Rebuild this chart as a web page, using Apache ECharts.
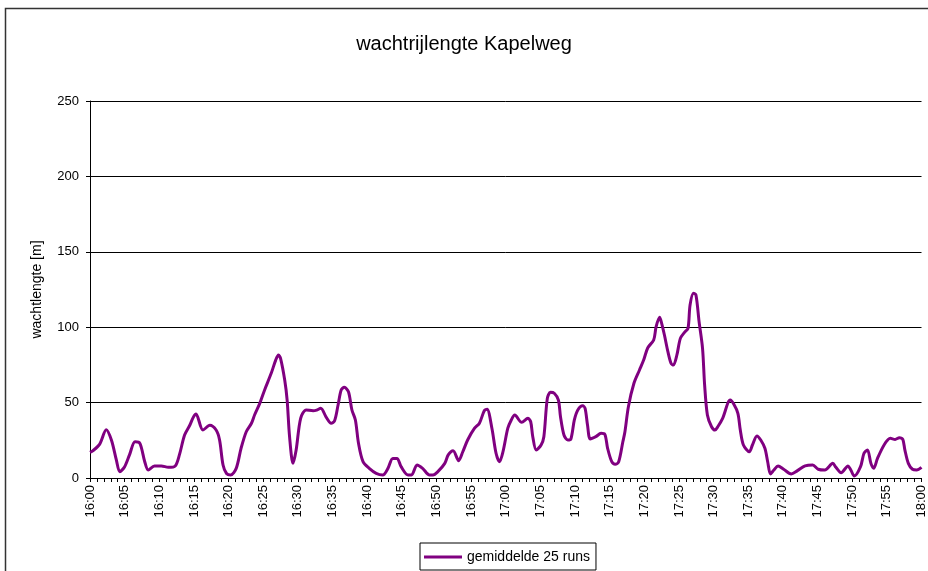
<!DOCTYPE html>
<html>
<head>
<meta charset="utf-8">
<script src="https://cdn.jsdelivr.net/npm/echarts@6/dist/echarts.min.js"></script>
<style>
	html, body { margin: 0; padding: 0; background: #fff; }
	#chart { width: 928px; height: 571px; }
</style>
</head>
<body>
<div id="chart"></div>
<script>
"use strict";

/*****Data*****/
// minutes after 16:00
var minutes = [
	0, 0.4, 1.4, 2.35, 3.1, 3.8, 4.3, 5.0, 5.7, 6.5, 7.2, 7.9, 8.4, 9.3, 10.3, 11.3, 12.3, 12.9, 13.65, 14.4,
	14.9, 15.3, 16.3, 17.3, 18.2, 18.7, 19.2, 19.7, 20.3, 21.1, 21.8, 22.55, 23.3, 23.75, 24.5, 25.2, 26.15, 26.8, 27.2, 27.5,
	28.1, 28.45, 28.8, 29.3, 29.75, 30.4, 31.2, 32.2, 32.7, 33.3, 34.1, 34.8, 35.3, 35.8, 36.25, 36.7, 37.3, 37.8, 38.3, 38.75,
	39.4, 40.3, 41.3, 42.25, 43.0, 43.7, 44.3, 44.9, 45.9, 46.4, 47.2, 48.0, 49.0, 49.5, 50.2, 51.2, 51.7, 52.4, 53.2, 53.8,
	54.5, 55.5, 56.2, 56.9, 57.3, 58.0, 58.6, 59.1, 59.6, 60.3, 60.8, 61.3, 62.3, 63.2, 63.6, 63.9, 64.4, 65.1, 65.5, 66.0,
	66.45, 67.0, 67.6, 67.9, 68.4, 68.95, 69.4, 69.9, 70.4, 71.1, 71.45, 71.8, 72.2, 73.0, 73.75, 74.3, 74.7, 75.3, 75.8, 76.3,
	76.9, 77.2, 77.7, 78.5, 79.3, 79.9, 80.5, 81.35, 81.7, 82.2, 82.5, 82.9, 83.4, 83.85, 84.2, 84.7, 85.2, 85.8, 86.3, 86.6,
	87.1, 87.45, 87.9, 88.4, 88.7, 89.1, 89.7, 90.2, 90.6, 91.3, 92.4, 92.9, 93.5, 93.85, 94.3, 95.15, 95.6, 96.25, 96.8, 97.4,
	97.8, 98.2, 98.7, 99.3, 100.1, 101.2, 102.1, 103.2, 104.3, 105.1, 106.05, 107.2, 107.65, 108.4, 109.4, 109.8, 110.3, 111.2, 111.7, 112.2,
	112.7, 113.1, 113.65, 114.6, 115.5, 116.2, 116.8, 117.3, 117.6, 118.1, 118.7, 119.3, 120
];
var queueLength = [
	17, 18, 22.5, 32, 25, 12, 4.2, 7.5, 15.3, 24, 23, 10.8, 5.3, 8, 8, 7.1, 8, 15.3, 28.5, 35,
	40.2, 42.4, 31.8, 35, 31.8, 25.2, 8.6, 3, 2, 6.4, 19.7, 30.7, 36.3, 41.8, 49.5, 58.4, 69.4, 78.2, 81.6, 79.4,
	65, 51.7, 27.4, 9.7, 18.6, 39.6, 45.1, 44.6, 45, 46.2, 40.2, 36.3, 38, 48.4, 58.4, 60.1, 57.2, 45.1, 38.5, 23,
	10.8, 6.4, 3.1, 2, 6.4, 13, 13, 7.5, 2, 2, 8.6, 6.4, 2, 2, 4.2, 9.7, 15.3, 18.1, 11.5, 17.4,
	25.2, 33, 36.3, 44.6, 45.6, 33, 16.4, 10.8, 17.4, 33, 38.5, 41.8, 36.9, 39.6, 37.3, 27.4, 18.6, 21.9, 27.4, 52.8,
	56.8, 56.2, 51.7, 40.6, 28.5, 25.2, 25.9, 38.5, 45.1, 47.9, 46.2, 35.1, 25.9, 27.4, 29.6, 29, 19.7, 10.8, 9.1, 10.8,
	24, 30.7, 47.3, 62.8, 71.6, 78.2, 86.4, 91.5, 100.3, 106.6, 102.6, 94.8, 83.8, 76.1, 74.9, 81.6, 92.6, 96.6, 99.2, 114.7,
	122.5, 121.4, 103.7, 86, 61.7, 41.8, 34, 31.8, 34, 39.6, 51.7, 49, 42.9, 31.8, 21.9, 17.4, 21.9, 27.9, 25.2, 19.7,
	10.8, 2.7, 5.3, 8, 5.8, 2.7, 4.9, 8, 8.6, 5.8, 5.3, 9.7, 7.1, 3.5, 8, 5.3, 1.3, 7.5, 16.4, 18.6,
	9.7, 6.4, 13, 21.9, 26.3, 25.6, 26.7, 25.6, 18.6, 9.7, 5.8, 5.3, 7.1
];
var yTicks = [0, 50, 100, 150, 200, 250];

/*****Chart*****/
var chartFont = "'Liberation Sans', Arial, sans-serif";
var seriesData = [];
for (var i = 0; i < minutes.length; i++) {
	seriesData.push([minutes[i], queueLength[i]]);
}

var eChart = echarts.init(document.getElementById('chart'));
var option = {
	animation: false,
	backgroundColor: '#fff',
	title: {
		text: 'wachtrijlengte Kapelweg',
		left: 'center',
		top: 29,
		textStyle: {
			fontFamily: chartFont,
			fontWeight: 'normal',
			fontSize: 20,
			color: '#000'
		}
	},
	graphic: [{
		type: 'rect',
		shape: { x: 5.5, y: 8.5, width: 940, height: 580 },
		style: { fill: 'none', stroke: '#333', lineWidth: 1.5 },
		silent: true
	}],
	legend: {
		bottom: 1,
		left: 420,
		itemWidth: 38,
		itemHeight: 3,
		itemGap: 4,
		padding: [7, 6, 6, 4],
		borderColor: '#000',
		borderWidth: 1,
		icon: 'rect',
		textStyle: { fontFamily: chartFont, fontSize: 14, color: '#000' },
		data: ['gemiddelde 25 runs']
	},
	grid: {
		left: 90,
		right: 6,
		top: 101,
		bottom: 93,
		containLabel: false
	},
	xAxis: {
		type: 'value',
		min: 0,
		max: 120,
		interval: 5,
		axisLine: { onZero: false, lineStyle: { color: '#000', width: 1 } },
		axisTick: { show: true, length: 4, lineStyle: { color: '#000' } },
		minorTick: { show: true, splitNumber: 5, length: 4, lineStyle: { color: '#000' } },
		splitLine: { show: false },
		axisLabel: {
			rotate: 90,
			margin: 7,
			fontFamily: chartFont,
			fontSize: 13,
			color: '#000',
			formatter: function (v) {
				var h = 16 + Math.floor(v / 60);
				var m = v % 60;
				return h + ':' + (m < 10 ? '0' + m : m);
			}
		}
	},
	yAxis: {
		type: 'value',
		min: yTicks[0],
		max: yTicks[yTicks.length - 1],
		interval: 50,
		name: 'wachtlengte [m]',
		nameLocation: 'middle',
		nameGap: 46,
		nameTextStyle: { fontFamily: chartFont, fontSize: 14, color: '#000' },
		axisLine: { show: true, lineStyle: { color: '#000', width: 1 } },
		axisTick: { show: true, length: 4, lineStyle: { color: '#000' } },
		splitLine: { show: true, lineStyle: { color: '#000', width: 1 } },
		axisLabel: {
			margin: 11,
			fontFamily: chartFont,
			fontSize: 13,
			color: '#000'
		}
	},
	series: [{
		name: 'gemiddelde 25 runs',
		type: 'line',
		data: seriesData,
		smooth: 0.3,
		showSymbol: false,
		symbol: 'none',
		color: '#800080',
		lineStyle: { color: '#800080', width: 3 }
	}]
};
eChart.setOption(option);
</script>
</body>
</html>
